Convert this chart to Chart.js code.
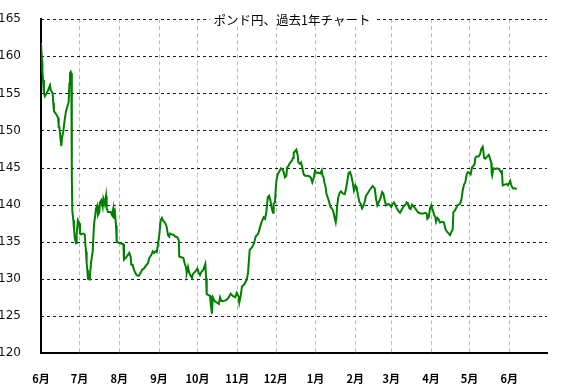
<!DOCTYPE html>
<html>
<head>
<meta charset="utf-8">
<script src="https://cdn.jsdelivr.net/npm/chart.js@4/dist/chart.umd.min.js"></script>
<style>
html,body{margin:0;padding:0;background:#fff;}
canvas{display:block;}
</style>
</head>
<body>
<canvas id="c" width="566" height="384"></canvas>
<script>
const chartTitle = "ポンド円、過去1年チャート";
const monthTicks = [0, 30, 61, 92, 122, 153, 183, 214, 245, 273, 304, 334, 365];
const monthLabels = ["6月","7月","8月","9月","10月","11月","12月","1月","2月","3月","4月","5月","6月"];
const yTicks = [120, 125, 130, 135, 140, 145, 150, 155, 160, 165];

const days = [
  0, 0.8, 1.1, 1.6, 2.3, 3.0, 4.4, 5.5, 7.0, 7.7, 9.1, 9.6, 10.1, 12.2, 13.3, 13.8, 14.3, 15.0, 15.8, 16.4,
  17.4, 18.5, 19.5, 20.5, 21.6, 22.1, 22.6, 23.2, 23.6, 24.0, 24.1, 24.4, 25.2, 25.7, 26.3, 27.3, 27.8, 28.8, 29.9, 30.4,
  31.4, 32.7, 34.1, 34.5, 35.1, 35.6, 36.1, 36.6, 37.7, 38.2, 39.2, 40.3, 41.3, 41.9, 42.3, 42.9, 43.9, 44.4, 45.5, 46.0,
  47.0, 48.1, 48.6, 49.7, 50.7, 51.2, 52.2, 54.3, 55.4, 56.4, 56.9, 57.7, 58.5, 59.0, 61.6, 64.2, 64.7, 66.8, 68.8, 69.9,
  70.4, 71.5, 72.5, 73.5, 74.6, 76.2, 77.7, 78.7, 80.3, 81.9, 83.4, 84.4, 86.0, 87.1, 88.1, 89.1, 90.2, 91.2, 92.2, 93.3,
  94.3, 95.4, 96.9, 98.0, 99.0, 100.0, 100.6, 102.1, 103.7, 104.7, 106.3, 107.4, 107.8, 109.4, 111.0, 112.0, 113.1, 113.6, 114.6, 115.6,
  116.7, 117.7, 118.3, 119.3, 120.9, 121.9, 123.0, 124.0, 125.0, 126.5, 128.1, 128.7, 129.2, 130.8, 131.8, 132.3, 133.3, 133.9, 135.4, 137.0,
  138.6, 139.6, 140.6, 142.1, 143.7, 144.8, 146.3, 147.9, 149.5, 151.5, 152.6, 154.1, 154.6, 155.7, 156.7, 158.3, 160.4, 161.4, 162.7, 164.3,
  165.9, 167.4, 169.4, 170.5, 172.1, 173.6, 174.7, 175.7, 176.8, 177.8, 178.8, 179.9, 180.9, 181.4, 182.4, 183.0, 183.5, 184.6, 185.6, 187.1,
  188.2, 189.2, 190.2, 191.3, 191.8, 192.8, 194.4, 195.5, 196.5, 197.0, 198.1, 199.1, 200.2, 200.6, 201.7, 202.7, 203.7, 204.8, 205.8, 207.6,
  209.5, 210.5, 211.5, 212.6, 213.6, 214.6, 216.2, 217.8, 218.9, 219.4, 220.4, 220.9, 222.0, 222.5, 223.5, 224.6, 225.6, 226.7, 227.7, 228.7,
  229.8, 230.3, 230.8, 231.8, 232.9, 233.9, 235.3, 236.8, 237.8, 238.8, 239.9, 240.9, 241.9, 243.0, 244.0, 245.1, 246.1, 247.2, 248.2, 249.3,
  250.3, 251.3, 252.4, 253.4, 255.0, 256.0, 257.6, 258.6, 260.2, 261.2, 262.2, 263.3, 264.9, 265.9, 266.9, 268.0, 269.0, 270.0, 271.1, 272.1,
  273.1, 274.2, 275.2, 276.2, 277.3, 278.9, 279.9, 281.5, 282.5, 284.1, 285.1, 286.1, 287.2, 288.2, 289.3, 290.3, 291.8, 292.9, 294.5, 296.1,
  298.1, 299.7, 300.7, 301.2, 302.3, 303.3, 304.3, 305.4, 306.4, 307.4, 308.0, 309.0, 310.1, 311.1, 312.6, 314.2, 315.2, 316.3, 317.9, 318.9,
  319.9, 321.0, 321.5, 322.6, 323.6, 324.6, 325.7, 326.7, 327.7, 328.8, 329.8, 330.8, 331.9, 332.9, 333.9, 335.0, 336.0, 337.0, 338.1, 338.6,
  339.6, 341.2, 342.3, 343.3, 344.4, 344.9, 345.4, 346.4, 348.0, 349.1, 350.1, 351.1, 351.4, 351.7, 352.7, 354.3, 355.8, 357.4, 358.5, 359.3,
  360.0, 361.6, 363.1, 364.2, 365.8, 366.7, 367.8, 369.4, 370.9
];
const prices = [
  161.8, 159.4, 157.9, 156.8, 155.0, 154.6, 155.0, 155.4, 156.1, 155.4, 155.0, 153.7, 152.6, 152.1, 151.7, 150.5, 150.5, 149.3, 147.9, 149.0,
  149.9, 151.5, 152.6, 153.2, 153.9, 156.3, 157.7, 157.9, 157.7, 147.0, 143.5, 139.2, 137.9, 136.8, 135.5, 134.8, 136.1, 137.9, 137.5, 136.1,
  136.0, 136.1, 136.0, 134.8, 133.7, 132.1, 131.2, 130.0, 129.9, 130.6, 132.4, 133.7, 137.2, 138.1, 138.6, 139.5, 139.9, 138.6, 139.0, 140.3,
  140.6, 139.7, 140.8, 140.1, 141.2, 139.5, 139.0, 139.0, 138.6, 139.5, 138.1, 138.8, 137.2, 135.0, 134.8, 134.7, 132.6, 133.0, 133.5, 133.0,
  131.9, 131.9, 131.2, 130.8, 130.5, 130.4, 130.8, 131.2, 131.4, 131.8, 132.1, 132.8, 133.2, 133.7, 133.5, 133.7, 133.6, 134.6, 135.9, 137.9,
  138.2, 137.8, 137.5, 137.0, 135.9, 135.7, 136.1, 136.0, 135.9, 135.7, 135.6, 135.2, 133.0, 132.9, 132.8, 132.1, 131.5, 130.8, 131.6, 130.8,
  130.4, 130.1, 130.6, 130.8, 131.1, 131.4, 130.8, 130.5, 130.9, 131.2, 132.0, 130.1, 127.9, 127.8, 127.7, 126.6, 125.3, 127.5, 127.0, 126.8,
  126.6, 127.5, 127.0, 127.0, 127.1, 127.2, 127.5, 128.0, 127.7, 127.5, 128.1, 127.6, 126.8, 127.7, 129.0, 129.2, 129.9, 130.8, 133.9, 134.2,
  134.7, 135.7, 136.1, 136.8, 137.7, 138.3, 138.1, 139.0, 141.0, 141.2, 140.6, 139.5, 138.9, 140.1, 140.3, 142.1, 143.2, 144.1, 144.4, 144.9,
  144.8, 144.4, 143.7, 143.9, 145.0, 145.2, 145.7, 145.9, 146.3, 147.0, 147.2, 147.4, 146.6, 145.7, 145.5, 145.7, 145.0, 144.1, 143.9, 143.9,
  143.8, 143.6, 143.0, 143.6, 144.6, 144.3, 144.3, 144.2, 144.6, 144.0, 143.6, 143.0, 142.3, 141.5, 141.0, 140.4, 139.7, 139.5, 139.2, 138.4,
  137.6, 138.2, 139.7, 141.0, 141.6, 141.8, 141.5, 141.4, 142.1, 143.2, 144.3, 144.4, 143.9, 143.0, 141.9, 142.6, 142.3, 141.2, 140.4, 140.1,
  139.5, 139.8, 140.4, 141.2, 141.6, 141.9, 142.3, 142.5, 142.2, 140.8, 139.9, 140.3, 141.0, 141.7, 141.5, 140.6, 139.9, 140.0, 140.1, 139.9,
  139.7, 140.1, 140.3, 140.0, 139.5, 139.1, 138.9, 139.4, 139.7, 140.0, 140.3, 140.2, 139.5, 139.4, 140.0, 139.8, 139.5, 139.2, 138.9, 138.8,
  138.8, 138.9, 138.8, 138.1, 138.3, 139.5, 139.9, 139.3, 138.7, 138.3, 137.7, 138.2, 138.0, 137.6, 137.7, 137.6, 136.8, 136.4, 136.1, 135.9,
  136.3, 136.7, 139.0, 139.2, 139.5, 139.9, 140.0, 140.1, 140.6, 141.9, 142.7, 143.0, 144.1, 144.4, 144.3, 144.1, 145.0, 145.2, 145.5, 146.3,
  146.5, 146.5, 146.8, 147.5, 147.8, 147.2, 146.3, 146.2, 146.5, 146.7, 146.2, 145.6, 144.1, 143.9, 144.9, 144.8, 144.9, 144.7, 144.4, 144.5,
  142.6, 142.7, 142.8, 142.6, 143.2, 142.6, 142.2, 142.2, 142.1
];

const points = days.map((d, i) => ({ x: d, y: prices[i] }));

const dashedGrid = {
  id: 'dashedGrid',
  beforeDatasetsDraw(chart) {
    const ctx = chart.ctx;
    const area = chart.chartArea;
    const xs = chart.scales.x, ys = chart.scales.y;
    ctx.save();
    ctx.lineWidth = 1;
    ctx.strokeStyle = '#bbbbbb';
    ctx.setLineDash([4, 3]);
    monthTicks.forEach(v => {
      const px = Math.round(xs.getPixelForValue(v)) + 0.5;
      if (v === 0) return;
      ctx.beginPath();
      ctx.moveTo(px, area.top);
      ctx.lineTo(px, area.bottom);
      ctx.stroke();
    });
    ctx.strokeStyle = '#1a1a1a';
    ctx.setLineDash([3, 3]);
    yTicks.forEach(v => {
      if (v === 120) return;
      const py = Math.round(ys.getPixelForValue(v)) + 0.5;
      ctx.beginPath();
      ctx.moveTo(area.left, py);
      ctx.lineTo(area.right, py);
      ctx.stroke();
    });
    ctx.restore();
  }
};

const titlePlugin = {
  id: 'boxTitle',
  afterDraw(chart) {
    const ctx = chart.ctx;
    const area = chart.chartArea;
    ctx.save();
    ctx.font = '12.5px "Noto Sans CJK JP"';
    const w = ctx.measureText(chartTitle).width;
    const cx = (area.left + area.right) / 2 - 2;
    const cy = area.top + 1;
    ctx.fillStyle = '#ffffff';
    ctx.fillRect(cx - w / 2 - 4, cy - 7, w + 8, 14);
    ctx.fillStyle = '#000000';
    ctx.textAlign = 'center';
    ctx.textBaseline = 'middle';
    ctx.fillText(chartTitle, cx, cy);
    ctx.restore();
  }
};

new Chart(document.getElementById('c'), {
  type: 'line',
  data: {
    datasets: [{
      data: points,
      borderColor: '#008000',
      borderWidth: 2,
      pointRadius: 0,
      tension: 0,
      fill: false
    }]
  },
  options: {
    responsive: false,
    animation: false,
    devicePixelRatio: 1,
    layout: { padding: { top: 15, right: 19, bottom: 0, left: 0 } },
    plugins: { legend: { display: false }, tooltip: { enabled: false }, title: { display: false } },
    scales: {
      x: {
        type: 'linear',
        min: 0,
        max: 394.5,
        afterBuildTicks(scale) { scale.ticks = monthTicks.map(v => ({ value: v })); },
        afterFit(scale) { scale.height = 31; },
        ticks: {
          autoSkip: false,
          maxRotation: 0,
          padding: 11,
          color: '#000',
          font: { family: '"Noto Sans CJK JP"', size: 11, weight: 'bold' },
          callback: (v, i) => monthLabels[i]
        },
        grid: { display: false },
        border: { display: true, color: '#000', width: 2 }
      },
      y: {
        min: 120,
        max: 165,
        afterBuildTicks(scale) { scale.ticks = yTicks.map(v => ({ value: v })); },
        afterFit(scale) { scale.width = 41; },
        ticks: {
          padding: 12,
          color: '#111',
          font: { family: 'DejaVu Sans', size: 12 },
          callback: (v) => String(v)
        },
        grid: { display: false },
        border: { display: true, color: '#000', width: 2 }
      }
    }
  },
  plugins: [dashedGrid, titlePlugin]
});
</script>
</body>
</html>
